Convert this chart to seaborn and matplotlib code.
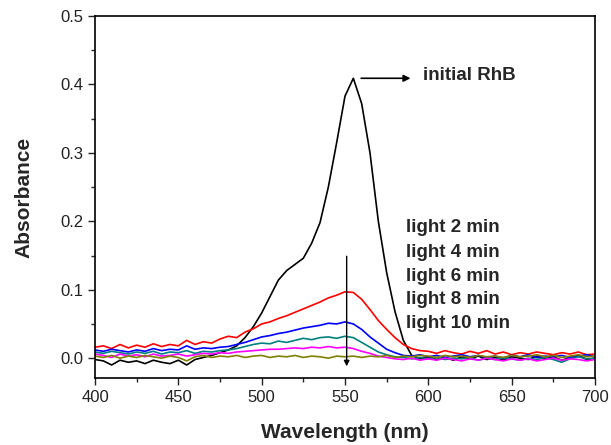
import numpy as np
import pandas as pd
import matplotlib
matplotlib.use("Agg")
import matplotlib.pyplot as plt
import seaborn as sns
from matplotlib.ticker import MultipleLocator

wavelength = list(range(400, 701, 5))

initial_rhb = [-0.002, -0.004, -0.010, -0.003, -0.006, -0.004, -0.008, -0.003, -0.006, -0.008,
               -0.003, -0.010, -0.002, 0.001, 0.004, 0.008, 0.012, 0.018, 0.030, 0.046,
               0.066, 0.090, 0.114, 0.128, 0.137, 0.146, 0.168, 0.198, 0.250, 0.315,
               0.383, 0.409, 0.372, 0.300, 0.200, 0.125, 0.068, 0.026, 0.004, -0.001,
               0.002, -0.002, 0.001, -0.003, 0.002, -0.001, 0.003, -0.002, 0.001, -0.003,
               0.002, 0.000, -0.002, 0.003, -0.001, 0.002, -0.003, 0.001, 0.004, -0.002, 0.000]

light_2 = [0.016, 0.018, 0.014, 0.020, 0.015, 0.019, 0.016, 0.021, 0.017, 0.020,
           0.018, 0.026, 0.020, 0.024, 0.022, 0.028, 0.032, 0.030, 0.038, 0.043,
           0.050, 0.053, 0.058, 0.062, 0.067, 0.072, 0.077, 0.082, 0.088, 0.092,
           0.097, 0.096, 0.086, 0.071, 0.055, 0.042, 0.030, 0.020, 0.014, 0.011,
           0.010, 0.007, 0.011, 0.008, 0.006, 0.010, 0.007, 0.011, 0.006, 0.009,
           0.005, 0.008, 0.006, 0.009, 0.007, 0.005, 0.008, 0.006, 0.009, 0.005, 0.006]

light_4 = [0.012, 0.010, 0.013, 0.011, 0.009, 0.012, 0.010, 0.014, 0.011, 0.013,
           0.012, 0.018, 0.013, 0.015, 0.014, 0.016, 0.017, 0.020, 0.023, 0.027,
           0.031, 0.033, 0.036, 0.038, 0.041, 0.044, 0.046, 0.048, 0.051, 0.050,
           0.053, 0.050, 0.042, 0.031, 0.022, 0.013, 0.008, 0.004, 0.003, 0.005,
           0.002, 0.004, 0.001, 0.003, 0.005, 0.002, 0.004, 0.001, 0.003, 0.000,
           0.004, 0.002, 0.005, 0.001, 0.003, 0.002, 0.004, 0.001, 0.003, 0.005, 0.002]

light_6 = [0.009, 0.007, 0.010, 0.008, 0.006, 0.009, 0.007, 0.010, 0.006, 0.009,
           0.008, 0.011, 0.007, 0.010, 0.009, 0.011, 0.012, 0.014, 0.017, 0.020,
           0.022, 0.021, 0.025, 0.023, 0.026, 0.029, 0.027, 0.030, 0.031, 0.029,
           0.032, 0.030, 0.023, 0.016, 0.009, 0.005, 0.002, 0.001, -0.001, 0.001,
           -0.001, 0.001, -0.002, 0.000, -0.001, 0.001, -0.003, 0.000, -0.002, 0.001,
           -0.001, -0.003, 0.000, -0.002, 0.001, -0.002, -0.006, -0.001, 0.002, -0.001, 0.000]

light_8 = [0.006, 0.004, 0.001, 0.006, 0.003, 0.005, 0.002, 0.006, 0.003, 0.004,
           0.006, 0.003, 0.005, 0.007, 0.006, 0.008, 0.007, 0.009, 0.010, 0.011,
           0.012, 0.013, 0.013, 0.014, 0.015, 0.014, 0.016, 0.015, 0.017, 0.015,
           0.016, 0.014, 0.010, 0.007, 0.003, 0.001, -0.001, -0.002, 0.000, -0.003,
           -0.001, -0.003, 0.000, -0.002, -0.004, -0.001, -0.003, 0.000, -0.002, -0.004,
           -0.001, -0.003, -0.001, -0.004, -0.002, 0.000, -0.003, -0.001, -0.002, -0.004, -0.002]

light_10 = [0.003, 0.001, 0.004, 0.000, 0.003, 0.001, 0.004, 0.002, 0.000, 0.003,
            0.001, -0.004, 0.002, 0.004, 0.001, 0.003, 0.002, 0.004, 0.001, 0.003,
            0.004, 0.001, 0.003, 0.002, 0.004, 0.001, 0.003, 0.002, 0.000, 0.003,
            0.002, 0.003, 0.001, 0.003, 0.002, 0.004, 0.001, 0.003, 0.002, 0.004,
            0.003, 0.001, 0.004, 0.002, 0.003, 0.001, 0.004, 0.002, 0.003, 0.001,
            0.004, 0.002, 0.003, 0.005, 0.002, 0.004, 0.001, 0.003, 0.005, 0.002, 0.003]

series_names = ["initial RhB", "light 2 min", "light 4 min", "light 6 min", "light 8 min", "light 10 min"]
series_values = [initial_rhb, light_2, light_4, light_6, light_8, light_10]
colors = ["#000000", "#FF0000", "#0000FF", "#008080", "#FF00FF", "#808000"]

x_ticks = [400, 450, 500, 550, 600, 650, 700]
y_ticks = [0.0, 0.1, 0.2, 0.3, 0.4, 0.5]

frames = []
for name, vals in zip(series_names, series_values):
    frames.append(pd.DataFrame({"Wavelength": wavelength, "Absorbance": vals, "Sample": name}))
df = pd.concat(frames, ignore_index=True)

sns.set_style("ticks")
plt.rcParams["font.family"] = ["Liberation Sans", "DejaVu Sans"]

fig = plt.figure(figsize=(6.11, 4.45), dpi=100)
ax = fig.add_axes([95 / 611, 1 - 378 / 445, 500 / 611, 362 / 445])

sns.lineplot(data=df, x="Wavelength", y="Absorbance", hue="Sample",
             palette=dict(zip(series_names, colors)), hue_order=series_names,
             legend=False, linewidth=1.2, ax=ax, estimator=None, sort=False)

ax.set_xlim(400, 700)
ax.set_ylim(-0.029, 0.5)
ax.set_xticks(x_ticks)
ax.set_yticks(y_ticks)
ax.set_yticklabels([f"{v:.1f}" for v in y_ticks])
ax.xaxis.set_minor_locator(MultipleLocator(25))
ax.yaxis.set_minor_locator(MultipleLocator(0.05))
ax.tick_params(which="major", direction="out", length=5, width=1.0, labelsize=12, colors="#222222")
ax.tick_params(which="minor", direction="out", length=3, width=1.0)
for sp in ax.spines.values():
    sp.set_visible(True)
    sp.set_linewidth(1.2)
    sp.set_color("black")

ax.set_xlabel("Wavelength (nm)", fontsize=15, fontweight="bold", labelpad=13)
ax.set_ylabel("Absorbance", fontsize=15, fontweight="bold", labelpad=19)

# annotation for initial RhB
ax.annotate("", xy=(591, 0.409), xytext=(558, 0.409),
            arrowprops=dict(arrowstyle="-|>", color="black", lw=1.2, mutation_scale=10))
ax.text(597, 0.413, "initial RhB", fontsize=13.5, fontweight="bold", va="center", ha="left")

label_y = [0.191, 0.155, 0.120, 0.085, 0.050]
for name, yy in zip(series_names[1:], label_y):
    ax.text(586.5, yy, name, fontsize=13.5, fontweight="bold", va="center", ha="left")

ax.annotate("", xy=(551, -0.016), xytext=(551, 0.153),
            arrowprops=dict(arrowstyle="-|>", color="black", lw=1.0, mutation_scale=8))

fig.savefig("out.png", dpi=100)
